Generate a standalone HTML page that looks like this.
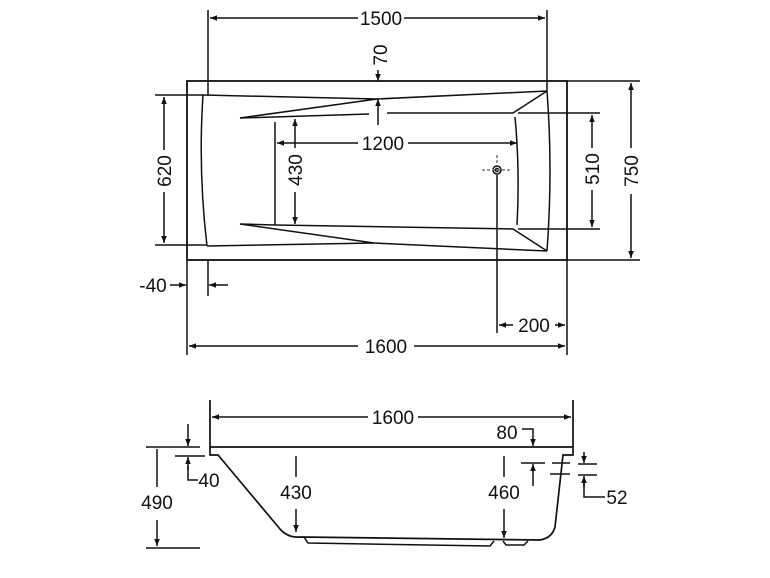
<!DOCTYPE html>
<html><head><meta charset="utf-8"><style>
html,body{margin:0;padding:0;background:#fff;}
svg{display:block;}
text{font-family:"Liberation Sans",Arial,sans-serif;font-size:19px;fill:#111;}
</style></head><body>
<svg width="770" height="578" viewBox="0 0 770 578" xmlns="http://www.w3.org/2000/svg">
<defs>
<marker id="a" viewBox="0 0 10 10" refX="10" refY="5" markerWidth="10" markerHeight="7" orient="auto-start-reverse" markerUnits="userSpaceOnUse"><path d="M0,1 L10,5 L0,9 Z" fill="#111"/></marker>
</defs>
<g stroke="#111" stroke-width="1.5" fill="none">
<!-- TOP VIEW -->
<rect x="187" y="81" width="380" height="179" stroke-width="1.8"/>
<path d="M203,95 Q198,170 207,246"/>
<path d="M547,91 Q553,170 547,251"/>
<path d="M203,95 L377,99 L547,91"/>
<path d="M240,118 L377,99"/>
<path d="M240,118 L369,114 M387,113 L513,113 L547,91"/>
<path d="M515,117 Q520,170 517,225"/>
<path d="M240,224 L374,243 L547,251"/>
<path d="M207,246 L374,243"/>
<path d="M240,224 L275,225 L513,229 L547,251"/>
<!-- 1500 -->
<path d="M208,10 V95 M547,10 V91"/>
<path d="M210,18 H358 M404,18 H545" marker-start="url(#a)" marker-end="url(#a)"/>
<!-- 70 -->
<path d="M378,70 V81" marker-end="url(#a)"/>
<path d="M378,125 V99" marker-end="url(#a)"/>
<!-- 620 -->
<path d="M155,95 H203 M155,245 H207"/>
<path d="M164,97 V150 M164,192 V243" marker-start="url(#a)" marker-end="url(#a)"/>
<!-- 430 -->
<path d="M275,122 V225"/>
<path d="M295,119 V148 M295,192 V224" marker-start="url(#a)" marker-end="url(#a)"/>
<!-- 1200 -->
<path d="M277,143 H358 M408,143 H517" marker-start="url(#a)" marker-end="url(#a)"/>
<!-- 510 -->
<path d="M518,113 H600 M518,229 H600"/>
<path d="M592,115 V148 M592,190 V227" marker-start="url(#a)" marker-end="url(#a)"/>
<!-- 750 -->
<path d="M567,81 H640 M567,260 H640"/>
<path d="M631,83 V148 M631,194 V258" marker-start="url(#a)" marker-end="url(#a)"/>
<!-- drain -->
<circle cx="497" cy="170" r="4"/>
<circle cx="497" cy="170" r="1.5"/>
<path d="M482,170 H512 M497,155 V165" stroke-dasharray="3,2" stroke="#777"/>
<path d="M497,175 V333"/>
<!-- 200 -->
<path d="M567,260 V355"/>
<path d="M499,325 H513 M555,325 H565" marker-start="url(#a)" marker-end="url(#a)"/>
<!-- 40 -->
<path d="M187,260 V355 M208,260 V296"/>
<path d="M170,285 H186" marker-end="url(#a)"/>
<path d="M228,285 H209" marker-end="url(#a)"/>
<!-- 1600 -->
<path d="M189,346 H358 M414,346 H565" marker-start="url(#a)" marker-end="url(#a)"/>

<!-- SIDE VIEW -->
<path d="M210,400 V455 H218 L280,529 Q288,538 300,537 L540,540 Q552,538 555,527 L563,455 H573 V400" stroke-width="1.7"/>
<path d="M210,447 H573" stroke-width="1.7"/>
<path d="M304,537 L308,543 L490,546 L494,541 M503,541 L506,545 L524,545 L528,541"/>
<!-- 1600 -->
<path d="M212,417 H368 M418,417 H571" marker-start="url(#a)" marker-end="url(#a)"/>
<!-- 490 -->
<path d="M146,447 H200 M146,548 H200"/>
<path d="M157,487 V449 M157,520 V546" marker-end="url(#a)"/>
<!-- 40 -->
<path d="M175,456 H205"/>
<path d="M188,424 V446" marker-end="url(#a)"/>
<path d="M188,470 V457" marker-end="url(#a)"/>
<path d="M188,466 V480 H198"/>
<!-- 430 / 460 -->
<path d="M296,477 V456 M296,509 V532" marker-end="url(#a)"/>
<path d="M504,477 V456 M504,509 V538" marker-end="url(#a)"/>
<!-- 80 -->
<path d="M522,429 H533 V446" marker-end="url(#a)"/>
<path d="M533,486 V464" marker-end="url(#a)"/>
<path d="M521,463 H545 M552,463 H570 M550,474 H570"/>
<!-- 52 -->
<path d="M578,464 H597 M578,475 H597"/>
<path d="M584,452 V463" marker-end="url(#a)"/>
<path d="M584,487 V476" marker-end="url(#a)"/>
<path d="M584,480 V497 H605"/>
</g>
<g>
<text x="381" y="25" text-anchor="middle">1500</text>
<text transform="translate(387,55) rotate(-90)" text-anchor="middle">70</text>
<text transform="translate(171,171) rotate(-90)" text-anchor="middle">620</text>
<text transform="translate(302,170) rotate(-90)" text-anchor="middle">430</text>
<text x="383" y="150" text-anchor="middle">1200</text>
<text transform="translate(599,169) rotate(-90)" text-anchor="middle">510</text>
<text transform="translate(638,171) rotate(-90)" text-anchor="middle">750</text>
<text x="534" y="332" text-anchor="middle">200</text>
<text x="153" y="292" text-anchor="middle">-40</text>
<text x="386" y="353" text-anchor="middle">1600</text>
<text x="393" y="424" text-anchor="middle">1600</text>
<text x="157" y="509" text-anchor="middle">490</text>
<text x="209" y="487" text-anchor="middle">40</text>
<text x="296" y="499" text-anchor="middle">430</text>
<text x="504" y="499" text-anchor="middle">460</text>
<text x="507" y="439" text-anchor="middle">80</text>
<text x="617" y="504" text-anchor="middle">52</text>
</g>
</svg>
</body></html>
